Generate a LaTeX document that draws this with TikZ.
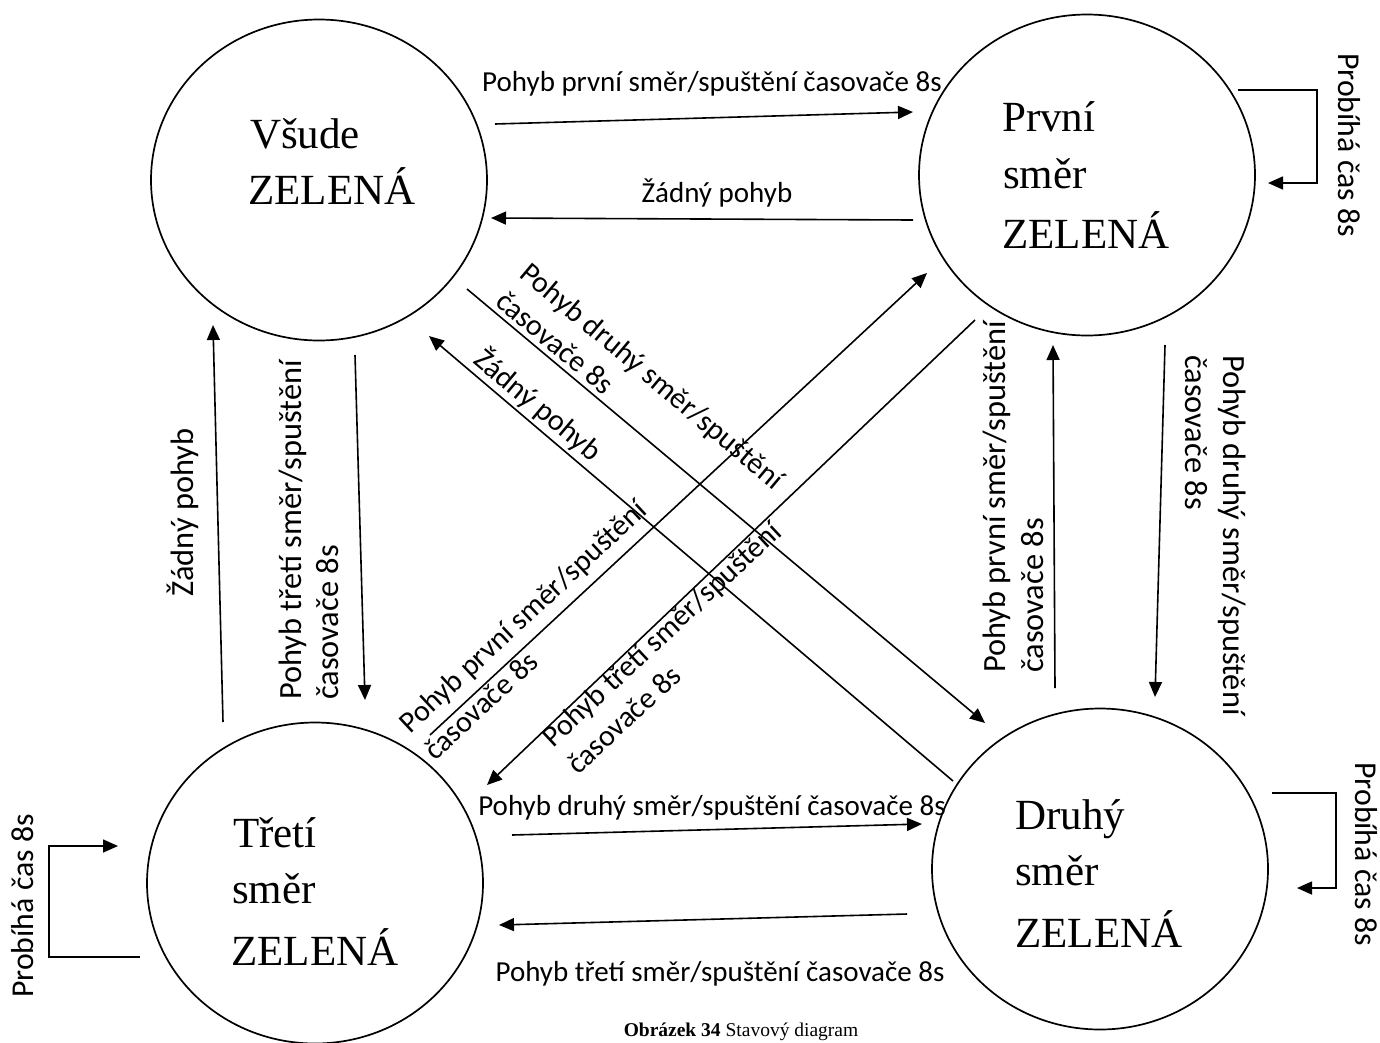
\documentclass[tikz,border=0pt]{standalone}
\usepackage{fontspec}
\setmainfont{Liberation Serif}
\newfontfamily\lblfont{Carlito}
\usetikzlibrary{arrows.meta,shapes.geometric}
\begin{document}
\begin{tikzpicture}[x=1pt,y=-1pt,
  state/.style={draw, ellipse, line width=1.7pt, minimum width=336pt, minimum height=321pt, inner sep=0pt},
  stxt/.style={anchor=base west, inner sep=0pt, font=\fontsize{43}{50}\selectfont},
  arr/.style={line width=1.6pt, -{Triangle[length=15pt,width=13pt]}},
  hl/.style={anchor=base, inner sep=0pt, font=\lblfont\fontsize{29}{35}\selectfont},
  dl/.style={anchor=base west, inner sep=0pt, font=\lblfont\fontsize{30}{36}\selectfont},
  vl/.style={anchor=base west, inner sep=0pt, font=\lblfont\fontsize{32.4}{38}\selectfont},
  ll/.style={anchor=base west, inner sep=0pt, font=\lblfont\fontsize{31.8}{38}\selectfont},
]
\useasboundingbox (0,0) rectangle (1380,1042);

% states
\node[state] (vsude) at (319,180) {};
\node[state] (prvni) at (1087,175) {};
\node[state] (treti) at (315,883) {};
\node[state] (druhy) at (1100,869) {};

% state texts
\node[stxt] (vsudeA) at (250,148) {Všude};
\node[stxt] (vsudeB) at (248,204) {ZELENÁ};
\node[stxt] (prvniA) at (1002,131) {První};
\node[stxt] (prvniB) at (1003,188) {směr};
\node[stxt] (prvniC) at (1002,248) {ZELENÁ};
\node[stxt] (tretiA) at (233,847) {Třetí};
\node[stxt] (tretiB) at (232,903) {směr};
\node[stxt] (tretiC) at (231,965) {ZELENÁ};
\node[stxt] (druhyA) at (1015,829) {Druhý};
\node[stxt] (druhyB) at (1015,885) {směr};
\node[stxt] (druhyC) at (1015,947) {ZELENÁ};

% connector end points
\coordinate (a1s) at ([shift={(176,-56)}]vsude.center);
\coordinate (a1e) at ([shift={(-174,-63)}]prvni.center);
\coordinate (a2s) at ([shift={(-174,45)}]prvni.center);
\coordinate (a2e) at ([shift={(172,38)}]vsude.center);
\coordinate (a3s) at ([shift={(148,109)}]vsude.center);
\coordinate (a3e) at ([shift={(-115,-146)}]druhy.center);
\coordinate (a4s) at ([shift={(-147,-88)}]druhy.center);
\coordinate (a4e) at ([shift={(110,156)}]vsude.center);
\coordinate (a5s) at ([shift={(115,-148)}]treti.center);
\coordinate (a5e) at ([shift={(-160,98)}]prvni.center);
\coordinate (a6s) at ([shift={(-112,145)}]prvni.center);
\coordinate (a6e) at ([shift={(172,-98)}]treti.center);
\coordinate (a7s) at ([shift={(36,175)}]vsude.center);
\coordinate (a7e) at ([shift={(50,-183)}]treti.center);
\coordinate (a8s) at ([shift={(-92,-161)}]treti.center);
\coordinate (a8e) at ([shift={(-106,145)}]vsude.center);
\coordinate (a9s) at ([shift={(-45,-181)}]druhy.center);
\coordinate (a9e) at ([shift={(-34,170)}]prvni.center);
\coordinate (a10s) at ([shift={(78,170)}]prvni.center);
\coordinate (a10e) at ([shift={(55,-172)}]druhy.center);
\coordinate (a11s) at ([shift={(197,-48)}]treti.center);
\coordinate (a11e) at ([shift={(-178,-45)}]druhy.center);
\coordinate (a12s) at ([shift={(-193,45)}]druhy.center);
\coordinate (a12e) at ([shift={(184,42)}]treti.center);
\coordinate (lps) at ([shift={(151,-85)}]prvni.center);
\coordinate (lpe) at ([shift={(181,8)}]prvni.center);
\coordinate (lds) at ([shift={(172,-76)}]druhy.center);
\coordinate (lde) at ([shift={(197,19)}]druhy.center);
\coordinate (lts) at ([shift={(-175,74)}]treti.center);
\coordinate (lte) at ([shift={(-197,-37)}]treti.center);

% connectors
\draw[arr] (a1s) -- (a1e);
\draw[arr] (a2s) -- (a2e);
\draw[arr] (a3s) -- (a3e);
\draw[arr] (a4s) -- (a4e);
\draw[arr] (a5s) -- (a5e);
\draw[arr] (a6s) -- (a6e);
\draw[arr] (a7s) -- (a7e);
\draw[arr] (a8s) -- (a8e);
\draw[arr] (a9s) -- (a9e);
\draw[arr] (a10s) -- (a10e);
\draw[arr] (a11s) -- (a11e);
\draw[arr] (a12s) -- (a12e);
\draw[arr] (lps) -- ++(79,0) |- (lpe);
\draw[arr] (lds) -- ++(64,0) |- (lde);
\draw[arr] (lts) -- ++(-91,0) |- (lte);

% horizontal labels
\node[hl] (l1) at (712,91) {Pohyb první směr/spuštění časovače 8s};
\node[hl] (l2) at (717,202) {Žádný pohyb};
\node[hl] (l11) at (712,815) {Pohyb druhý směr/spuštění časovače 8s};
\node[hl] (l12) at (720,981) {Pohyb třetí směr/spuštění časovače 8s};

% diagonal labels
\node[dl, rotate=-40] (l3a) at (518,276) {Pohyb druhý směr/spuštění};
\node[dl, rotate=-40] (l3b) at (494,304) {časovače 8s};
\node[dl, rotate=-40] (l4) at (472,362) {Žádný pohyb};
\node[dl, rotate=43] (l5a) at (410,735) {Pohyb první směr/spuštění};
\node[dl, rotate=43] (l5b) at (435,762) {časovače 8s};
\node[dl, rotate=43] (l6a) at (553,749) {Pohyb třetí směr/spuštění};
\node[dl, rotate=43] (l6b) at (578,776) {časovače 8s};

% vertical labels
\node[vl, rotate=90] (l7a) at (301,700) {Pohyb třetí směr/spuštění};
\node[vl, rotate=90] (l7b) at (338,700) {časovače 8s};
\node[vl, rotate=90] (l8) at (193,597) {Žádný pohyb};
\node[vl, rotate=90] (l9a) at (1005,673) {Pohyb první směr/spuštění};
\node[vl, rotate=90] (l9b) at (1043,673) {časovače 8s};
\node[vl, rotate=-90] (l10a) at (1223,355) {Pohyb druhý směr/spuštění};
\node[vl, rotate=-90] (l10b) at (1185,355) {časovače 8s};

% loop labels
\node[ll, rotate=-90] (lp) at (1338,53) {Probíhá čas 8s};
\node[ll, rotate=-90] (ld) at (1355,762) {Probíhá čas 8s};
\node[ll, rotate=90] (lt) at (33,998) {Probíhá čas 8s};

% caption
\node[anchor=base, inner sep=0pt, font=\fontsize{19.5}{23}\selectfont] (cap) at (741,1036) {\textbf{Obrázek 34} Stavový diagram};
\end{tikzpicture}
\end{document}
